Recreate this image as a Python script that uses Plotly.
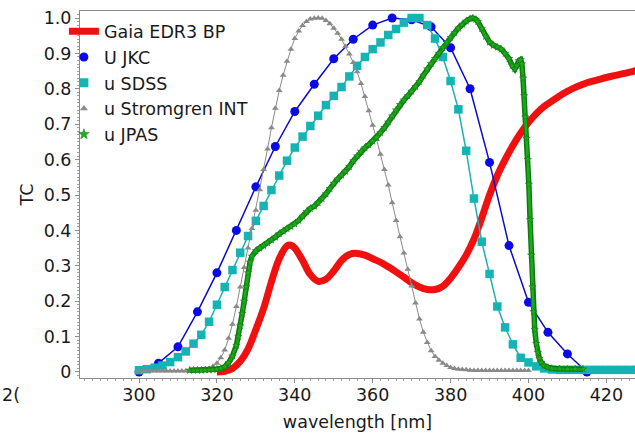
import plotly.graph_objects as go

# ---------------- data ----------------
gaia_wl = [320, 322, 324, 326, 328, 330, 332, 334, 336, 338, 339, 340, 342, 344, 346, 348, 350,
           352, 354, 356, 358, 360, 362, 364, 366, 368, 370, 372, 374, 376, 378, 380, 382, 384,
           386, 388, 390, 392, 394, 396, 398, 400, 402, 404, 406, 408, 410, 412, 414, 416, 418,
           420, 422, 424, 426, 428, 430, 435, 440]
gaia_tc = [0.0, 0.002, 0.01, 0.03, 0.065, 0.12, 0.18, 0.255, 0.32, 0.356, 0.358, 0.35, 0.315,
           0.275, 0.256, 0.262, 0.285, 0.315, 0.332, 0.335, 0.33, 0.32, 0.31, 0.297, 0.283, 0.268,
           0.252, 0.24, 0.233, 0.233, 0.242, 0.265, 0.295, 0.33, 0.375, 0.435, 0.5, 0.555, 0.6,
           0.64, 0.675, 0.705, 0.73, 0.75, 0.765, 0.78, 0.793, 0.804, 0.813, 0.82, 0.826, 0.832,
           0.837, 0.842, 0.847, 0.852, 0.856, 0.865, 0.872]

jkc_wl = [300, 305, 310, 315, 320, 325, 330, 335, 340, 345, 350, 355, 360, 365, 370, 375, 380,
          385, 390, 395, 400, 405, 410, 415]
jkc_tc = [0.0, 0.025, 0.071, 0.17, 0.28, 0.40, 0.523, 0.637, 0.736, 0.813, 0.885, 0.94, 0.98,
          1.0, 0.995, 0.975, 0.916, 0.80, 0.592, 0.357, 0.197, 0.112, 0.051, 0.0]

sdss_wl = [300, 302, 304, 306, 308, 310, 312, 314, 316, 318, 320, 322, 324, 326, 328, 330, 332,
           334, 336, 338, 340, 342, 344, 346, 348, 350, 352, 354, 356, 358, 360, 362, 364, 366,
           368, 370, 372, 374, 376, 378, 380, 382, 384, 386, 388, 390, 392, 394, 396, 398, 400,
           402, 404, 406, 408, 410, 412, 414, 416, 418, 420, 422, 424, 426, 428, 430, 432]
sdss_tc = [0.005, 0.008, 0.012, 0.018, 0.028, 0.042, 0.058, 0.08, 0.105, 0.142, 0.19, 0.24,
           0.288, 0.337, 0.384, 0.427, 0.469, 0.514, 0.555, 0.597, 0.634, 0.665, 0.695, 0.724,
           0.754, 0.78, 0.805, 0.835, 0.865, 0.89, 0.912, 0.931, 0.952, 0.969, 0.987, 1.0, 1.0,
           0.98, 0.942, 0.89, 0.822, 0.742, 0.625, 0.49, 0.368, 0.277, 0.185, 0.126, 0.078, 0.040,
           0.027, 0.016, 0.01, 0.007, 0.006, 0.006, 0.006, 0.006, 0.006, 0.006, 0.006, 0.006,
           0.006, 0.006, 0.006, 0.006, 0.006]

strom_wl = list(range(300, 401))
strom_tc = [0.003, 0.003, 0.003, 0.003, 0.003, 0.003, 0.003, 0.003, 0.003, 0.003,   # 300-309
            0.003, 0.003, 0.003, 0.003, 0.003, 0.003, 0.005, 0.007, 0.010, 0.016,   # 310-319
            0.025, 0.040, 0.062, 0.095, 0.135, 0.185, 0.240, 0.295, 0.350, 0.405,   # 320-329
            0.457, 0.515, 0.572, 0.630, 0.690, 0.745, 0.795, 0.838, 0.878, 0.912,   # 330-339
            0.942, 0.963, 0.979, 0.990, 0.997, 0.999, 1.000, 0.999, 0.993, 0.984,   # 340-349
            0.971, 0.957, 0.940, 0.920, 0.898, 0.874, 0.848, 0.815, 0.778, 0.738,   # 350-359
            0.697, 0.657, 0.615, 0.572, 0.528, 0.478, 0.428, 0.382, 0.336, 0.290,   # 360-369
            0.243, 0.195, 0.150, 0.112, 0.083, 0.060, 0.044, 0.033, 0.025, 0.018,   # 370-379
            0.013, 0.010, 0.008, 0.007, 0.006, 0.005, 0.004, 0.004, 0.004, 0.004,   # 380-389
            0.004, 0.004, 0.004, 0.004, 0.004, 0.004, 0.004, 0.004, 0.004, 0.004,   # 390-399
            0.004]                                                                  # 400

jpas_wl = [313, 314, 315, 316, 317, 318, 319, 320, 321, 322, 323, 324, 325, 325.5, 326, 326.5,
           327, 327.5, 328, 328.5, 329, 330, 331, 332, 333, 334, 335, 336, 337, 338, 339, 340,
           341, 342, 343, 344, 345, 346, 347, 348, 349, 350, 351, 352, 353, 354, 355, 356, 357,
           358, 359, 360, 361, 362, 363, 364, 365, 366, 367, 368, 369, 370, 371, 372, 373, 374,
           375, 376, 377, 378, 379, 380, 381, 382, 383, 384, 385, 385.7, 386.5, 387, 388, 389,
           390, 391, 392, 393, 394, 395, 395.8, 396.5, 397, 397.5, 398, 398.3, 398.6, 398.9,
           399.2, 399.5, 399.8, 400.1, 400.4, 400.7, 401, 401.3, 401.6, 402, 402.4, 402.8, 403.3,
           404, 405, 406, 408, 410, 412, 414]
jpas_tc = [0.005, 0.005, 0.005, 0.005, 0.006, 0.006, 0.007, 0.008, 0.010, 0.015, 0.026, 0.045,
           0.075, 0.10, 0.13, 0.165, 0.20, 0.24, 0.28, 0.31, 0.327, 0.342, 0.35, 0.357, 0.365,
           0.373, 0.381, 0.39, 0.398, 0.405, 0.411, 0.418, 0.428, 0.44, 0.453, 0.462, 0.468,
           0.478, 0.49, 0.503, 0.518, 0.533, 0.545, 0.556, 0.567, 0.58, 0.596, 0.61, 0.623,
           0.633, 0.642, 0.652, 0.663, 0.676, 0.69, 0.706, 0.723, 0.74, 0.755, 0.768, 0.78,
           0.793, 0.806, 0.82, 0.838, 0.856, 0.871, 0.885, 0.90, 0.916, 0.931, 0.945, 0.958,
           0.971, 0.982, 0.991, 0.998, 1.0, 0.996, 0.99, 0.97, 0.948, 0.932, 0.923, 0.918,
           0.912, 0.90, 0.885, 0.866, 0.856, 0.866, 0.879, 0.882, 0.87, 0.83, 0.78, 0.72, 0.66,
           0.60, 0.53, 0.43, 0.33, 0.24, 0.17, 0.12, 0.08, 0.055, 0.038, 0.027, 0.018, 0.013,
           0.010, 0.009, 0.008, 0.008, 0.008]

series_names = ["Gaia EDR3 BP", "U JKC", "u SDSS", "u Stromgren INT", "u JPAS"]

x_ticks = [280, 300, 320, 340, 360, 380, 400, 420]
y_ticks = [0, 0.1, 0.2, 0.3, 0.4, 0.5, 0.6, 0.7, 0.8, 0.9, 1.0]
y_ticklabels = ["0", "0.1", "0.2", "0.3", "0.4", "0.5", "0.6", "0.7", "0.8", "0.9", "1.0"]

# ---------------- styles ----------------
FONT = "DejaVu Sans"
FS = 17.5
TXT = "#1a1a1a"
RED = "#f01010"
BLUE_L, BLUE_M = "#0a0acc", "#0a0ae6"
CYAN_L, CYAN_M = "#1ab2b2", "#14b4b4"
GRAY = "#8a8a8a"
GREEN_D, GREEN_C, GREEN_M = "#0f7a0f", "#22b022", "#1fae1f"

fig = go.Figure()

# data traces (legend handled by separate legend-only entries)
fig.add_trace(go.Scatter(x=gaia_wl, y=gaia_tc, mode="lines", showlegend=False,
                         line=dict(color=RED, width=7, shape="spline")))
fig.add_trace(go.Scatter(x=jkc_wl, y=jkc_tc, mode="lines+markers", showlegend=False,
                         line=dict(color=BLUE_L, width=1.5),
                         marker=dict(symbol="circle", size=9, color=BLUE_M)))
fig.add_trace(go.Scatter(x=sdss_wl, y=sdss_tc, mode="lines+markers", showlegend=False,
                         line=dict(color=CYAN_L, width=1.5),
                         marker=dict(symbol="square", size=8.5, color=CYAN_M)))
fig.add_trace(go.Scatter(x=strom_wl, y=strom_tc, mode="lines+markers", showlegend=False,
                         line=dict(color=GRAY, width=1),
                         marker=dict(symbol="triangle-up", size=6, color=GRAY)))
fig.add_trace(go.Scatter(x=jpas_wl, y=jpas_tc, mode="lines", showlegend=False,
                         line=dict(color=GREEN_D, width=5.5), hoverinfo="skip"))
fig.add_trace(go.Scatter(x=jpas_wl, y=jpas_tc, mode="lines", showlegend=False,
                         line=dict(color=GREEN_C, width=2.5), hoverinfo="skip"))
fig.add_trace(go.Scatter(x=jpas_wl, y=jpas_tc, mode="lines+markers", showlegend=False,
                         line=dict(color="#18a818", width=1),
                         marker=dict(symbol="star", size=5.5, color=GREEN_M,
                                     line=dict(color=GREEN_D, width=0.5))))

# legend entries
fig.add_trace(go.Scatter(x=[None], y=[None], name=series_names[0], mode="lines",
                         line=dict(color=RED, width=7)))
fig.add_trace(go.Scatter(x=[None], y=[None], name=series_names[1], mode="markers",
                         marker=dict(symbol="circle", size=9, color=BLUE_M)))
fig.add_trace(go.Scatter(x=[None], y=[None], name=series_names[2], mode="markers",
                         marker=dict(symbol="square", size=9, color=CYAN_M)))
fig.add_trace(go.Scatter(x=[None], y=[None], name=series_names[3], mode="markers",
                         marker=dict(symbol="triangle-up", size=7, color=GRAY)))
fig.add_trace(go.Scatter(x=[None], y=[None], name=series_names[4], mode="markers",
                         marker=dict(symbol="star", size=8, color=GREEN_M,
                                     line=dict(color=GREEN_D, width=0.5))))

fig.update_layout(
    width=635, height=434,
    margin=dict(l=80, r=0, t=11, b=56),
    paper_bgcolor="white", plot_bgcolor="white",
    font=dict(family=FONT, size=FS, color=TXT),
    showlegend=True,
    legend=dict(x=-0.029, y=0.9935, xanchor="left", yanchor="top",
                bgcolor="rgba(255,255,255,0)", borderwidth=0,
                font=dict(family=FONT, size=FS, color=TXT),
                tracegroupgap=0, itemwidth=30, traceorder="normal"),
    xaxis=dict(range=[284.85, 427.35], tickmode="array", tickvals=x_ticks,
               showgrid=False, zeroline=False,
               showline=True, linecolor="#8c8c8c", linewidth=1, mirror=True,
               ticks="outside", ticklen=4, tickcolor="#8c8c8c",
               ticklabelstandoff=-3,
               minor=dict(dtick=2, ticks="outside", ticklen=2, tickcolor="#9a9a9a"),
               tickfont=dict(family=FONT, size=FS, color=TXT),
               title=dict(text="wavelength [nm]", standoff=11,
                          font=dict(family=FONT, size=FS, color=TXT))),
    yaxis=dict(range=[-0.017, 1.0198], tickmode="array", tickvals=y_ticks,
               ticktext=y_ticklabels,
               showgrid=False, zeroline=False,
               showline=True, linecolor="#8c8c8c", linewidth=1, mirror=False,
               ticks="outside", ticklen=4, tickcolor="#8c8c8c",
               minor=dict(dtick=0.01, ticks="outside", ticklen=2, tickcolor="#a0a0a0"),
               tickfont=dict(family=FONT, size=FS, color=TXT),
               title=dict(text="TC", standoff=5,
                          font=dict(family=FONT, size=FS, color=TXT))),
    annotations=[dict(text="2(", xref="paper", yref="paper", x=-0.144, y=-0.045,
                      xanchor="left", yanchor="middle", showarrow=False,
                      font=dict(family=FONT, size=FS, color=TXT))],
)

fig.write_html("out.html")
